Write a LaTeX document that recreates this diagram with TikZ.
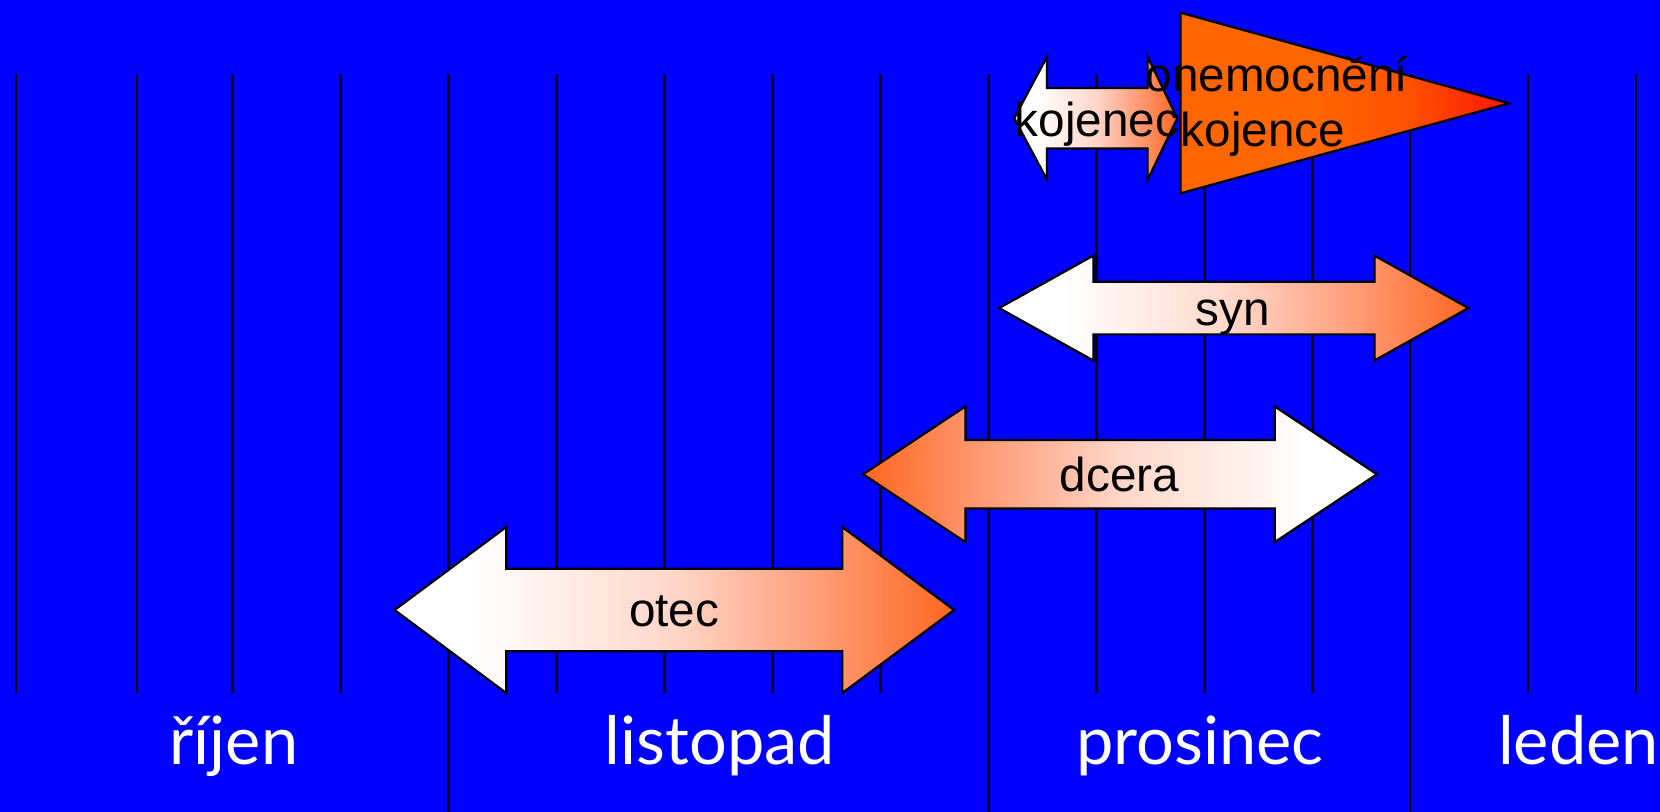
\documentclass[tikz,border=0pt]{standalone}
\usepackage{fontspec}
\setmainfont{Liberation Sans}
\newfontfamily\monthfont{Lato}
\definecolor{bgblue}{RGB}{0,0,255}
\definecolor{org}{RGB}{255,102,32}
\definecolor{peach}{RGB}{255,214,200}
\definecolor{salmon}{RGB}{255,160,125}
\definecolor{triorg}{RGB}{255,102,0}
\definecolor{trimid}{RGB}{255,80,0}
\definecolor{trired}{RGB}{255,22,0}
\pgfdeclarehorizontalshading{wo}{100bp}{color(0bp)=(white); color(25bp)=(white); color(32bp)=(white); color(50bp)=(peach); color(62bp)=(salmon); color(75bp)=(org); color(100bp)=(org)}
\pgfdeclarehorizontalshading{ow}{100bp}{color(0bp)=(org); color(25bp)=(org); color(38bp)=(salmon); color(50bp)=(peach); color(68bp)=(white); color(75bp)=(white); color(100bp)=(white)}
\pgfdeclarehorizontalshading{tri}{100bp}{color(0bp)=(triorg); color(25bp)=(triorg); color(45bp)=(triorg); color(60bp)=(trimid); color(75bp)=(trired); color(100bp)=(trired)}
\begin{document}
\begin{tikzpicture}[x=1pt,y=-1pt,
  vline/.style={line width=2.4pt, draw=black},
  arrowshape/.style={draw=black, line width=2.1pt, line join=miter},
  lbl/.style={anchor=base, inner sep=0pt, font=\fontsize{45}{54}\selectfont, text=black},
  month/.style={anchor=base, inner sep=0pt, font=\monthfont\fontsize{63}{72}\selectfont, text=white}]
\fill[bgblue] (0,0) rectangle (1568,767);
\useasboundingbox (0,0) rectangle (1568,767);
% vertical grid lines
\foreach \x in {15.1,129.4,219.5,321.5,525.5,627.5,729.5,831.5,1035.5,1137.5,1239.5,1443.5,1545.5}
  \draw[vline] (\x,69.9) -- (\x,654.3);
\foreach \x in {423.5,933.5,1332}
  \draw[vline] (\x,69.9) -- (\x,767);
% otec
\path[arrowshape, shading=wo] (372.7,576.2) -- (478.2,497.8) -- (478.2,537.2) -- (795.6,537.2) -- (795.6,497.8) -- (901.2,576.2) -- (795.6,654.6) -- (795.6,615.2) -- (478.2,615.2) -- (478.2,654.6) -- cycle;
% dcera
\path[arrowshape, shading=ow] (815.3,448) -- (911.9,383.9) -- (911.9,415.7) -- (1204,415.7) -- (1204,383.9) -- (1300.6,448) -- (1204,512.1) -- (1204,480.3) -- (911.9,480.3) -- (911.9,512.1) -- cycle;
% syn
\path[arrowshape, shading=wo] (943.7,291) -- (1032.8,241.4) -- (1032.8,266.15) -- (1298.2,266.15) -- (1298.2,241.4) -- (1387,291) -- (1298.2,340.6) -- (1298.2,315.85) -- (1032.8,315.85) -- (1032.8,340.6) -- cycle;
% kojenec
\path[arrowshape, shading=wo] (958,111.7) -- (989,53.5) -- (989,83.1) -- (1084,83.1) -- (1084,53.5) -- (1112,111.7) -- (1084,169.9) -- (1084,140.3) -- (989,140.3) -- (989,169.9) -- cycle;
% triangle
\path[arrowshape, shading=tri] (1115,12) -- (1425.5,97.6) -- (1115,182.6) -- cycle;
% labels
\node[lbl] (otec) at (636.8,592) {otec};
\node[lbl] (dcera) at (1057.3,463.8) {dcera};
\node[lbl] (syn) at (1164.6,307) {syn};
\node[lbl] (kojenec) at (1036,128.5) {kojenec};
\node[lbl] (onem) at (1206,86.6) {onemocnění};
\node[lbl] (kojence) at (1193,138.5) {kojence};
% months
\node[month] (rijen) at (221,722) {říjen};
\node[month] (listopad) at (680,722) {listopad};
\node[month] (prosinec) at (1133.6,722) {prosinec};
\node[month] (leden) at (1491,722) {leden};
\end{tikzpicture}
\end{document}
